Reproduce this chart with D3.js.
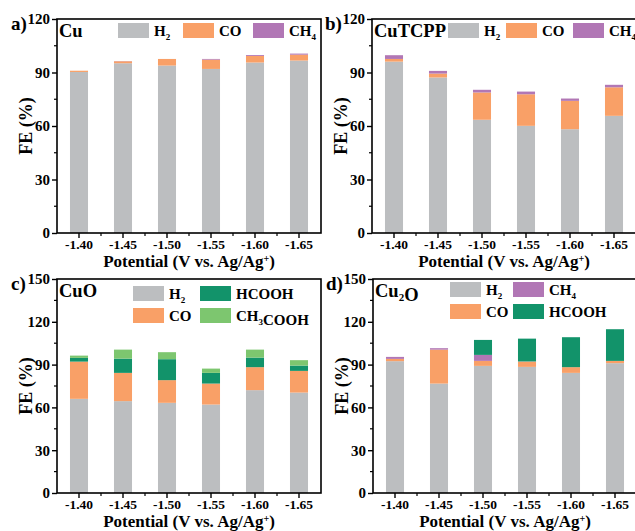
<!DOCTYPE html>
<html><head><meta charset="utf-8">
<script src="https://cdn.jsdelivr.net/npm/d3@7"></script>
<style>body{margin:0;background:#fff}svg{display:block}text{font-family:"Liberation Serif","Times New Roman",serif;font-weight:bold;fill:#000}</style>
</head><body><svg id="c" width="635" height="531"></svg>
<script>
const potentials = ["-1.40","-1.45","-1.50","-1.55","-1.60","-1.65"];
// Panel a: Cu
const cuH2  = [90.3, 95.2, 93.9, 92.0, 95.6, 96.7];
const cuCO  = [0.7, 1.1, 3.7, 5.2, 3.7, 3.3];
const cuCH4 = [0.0, 0.1, 0.0, 0.4, 0.5, 0.6];
// Panel b: CuTCPP
const tcH2  = [96.1, 87.2, 63.5, 60.1, 58.2, 65.7];
const tcCO  = [1.5, 2.2, 15.3, 17.7, 15.9, 16.0];
const tcCH4 = [2.1, 1.5, 1.5, 1.5, 1.3, 1.4];
// Panel c: CuO
const oH2     = [66.0, 64.4, 63.2, 62.0, 72.1, 70.4];
const oCO     = [26.1, 19.8, 15.9, 14.7, 16.1, 15.2];
const oHCOOH  = [2.6, 10.0, 14.7, 7.5, 6.7, 3.7];
const oCH3COOH= [1.6, 6.3, 4.9, 3.0, 5.6, 3.8];
// Panel d: Cu2O
const dH2    = [92.4, 76.7, 89.1, 88.4, 84.2, 91.0];
const dCO    = [1.6, 23.8, 3.5, 3.7, 4.0, 1.6];
const dCH4   = [1.4, 1.0, 4.2, 0.1, 0.0, 0.0];
const dHCOOH = [0.0, 0.0, 10.5, 16.0, 21.0, 22.2];

const yTicksAB = [0, 30, 60, 90, 120];
const yTicksCD = [0, 30, 60, 90, 120, 150];

const C = {H2:"#bcbec0", CO:"#f9a067", CH4:"#b177b5", HCOOH:"#12936a", CH3COOH:"#7dc66f"};

const svg = d3.select("#c");

function panel(o){
  const g = svg.append("g").attr("transform",`translate(${o.x},${o.y})`);
  const W = 264, H = 214;
  const x = d3.scaleBand().domain(potentials).range([0,W]).paddingInner(0.59).paddingOuter(0.295);
  const y = d3.scaleLinear().domain([0,o.ymax]).range([H,0]);
  const keys = o.series.map(s=>s.key);
  const rows = potentials.map((p,i)=>{const r={p}; o.series.forEach(s=>r[s.key]=s.vals[i]); return r;});
  const stack = d3.stack().keys(keys)(rows);
  g.selectAll("g.s").data(stack).join("g").attr("fill",d=>C[d.key])
    .selectAll("rect").data(d=>d).join("rect")
    .attr("x",d=>x(d.data.p)).attr("width",x.bandwidth())
    .attr("y",d=>y(d[1])).attr("height",d=>Math.max(0,y(d[0])-y(d[1])));
  // frame
  g.append("rect").attr("width",W).attr("height",H).attr("fill","none").attr("stroke","#000").attr("stroke-width",1.6);
  // y axis
  const ya = g.append("g").call(d3.axisLeft(y).tickValues(o.yticks).tickSize(5).tickPadding(2));
  ya.select(".domain").remove();
  ya.selectAll("line").attr("stroke-width",1.4);
  ya.selectAll("text").style("font-size","15px").style("font-family","Liberation Serif").style("font-weight","bold");
  const minor = d3.range(15,o.ymax,30);
  g.selectAll("line.ym").data(minor).join("line").attr("x1",-3).attr("x2",0).attr("y1",d=>y(d)).attr("y2",d=>y(d)).attr("stroke","#000").attr("stroke-width",1.2);
  // x axis
  const xa = g.append("g").attr("transform",`translate(0,${H})`).call(d3.axisBottom(x).tickSize(5).tickPadding(1.5));
  xa.select(".domain").remove();
  xa.selectAll("line").attr("stroke-width",1.4);
  xa.selectAll("text").style("font-size","13.5px").style("font-family","Liberation Serif").style("font-weight","bold");
  const bounds = potentials.slice(1).map(p=>x(p)-x.step()*x.paddingInner()/2);
  g.selectAll("line.xm").data(bounds).join("line").attr("x1",d=>d).attr("x2",d=>d).attr("y1",H).attr("y2",H+3).attr("stroke","#000").attr("stroke-width",1.2);
  // titles
  g.append("text").attr("x",W/2).attr("y",H+34.3).attr("text-anchor","middle").style("font-size","17px")
    .html('Potential (V vs. Ag/Ag<tspan dy="-5" style="font-size:10px">+</tspan><tspan dy="5">)</tspan>');
  g.append("text").attr("transform",`translate(-25,${H/2}) rotate(-90)`).attr("text-anchor","middle").style("font-size","18px").text("FE (%)");
  // panel letter
  g.append("text").attr("x",o.lx).attr("y",11).style("font-size","19px").text(o.letter);
  // material name
  g.append("text").attr("x",2).attr("y",o.ty).style("font-size","18.5px").html(o.name);
  // legend
  o.legend.forEach(l=>{
    g.append("rect").attr("x",l.x).attr("y",l.y).attr("width",31).attr("height",15).attr("fill",C[l.key]);
    g.append("text").attr("x",l.x+36).attr("y",l.y+13).style("font-size","15px").html(l.label);
  });
}
const sub = (s,fs)=>`<tspan dy="4" style="font-size:${fs||9}px">${s}</tspan><tspan dy="-4"></tspan>`;
const LH2 = "H"+sub("2"), LCH4 = "CH"+sub("4"), LCH3 = "CH"+sub("3")+"COOH";

panel({x:57,y:19,ymax:120,yticks:yTicksAB,letter:"a)",lx:-46,name:"Cu",ty:18,
  series:[{key:"H2",vals:cuH2},{key:"CO",vals:cuCO},{key:"CH4",vals:cuCH4}],
  legend:[{key:"H2",x:61,y:4,label:LH2},{key:"CO",x:126,y:4,label:"CO"},{key:"CH4",x:196,y:4,label:LCH4}]});
panel({x:372,y:19,ymax:120,yticks:yTicksAB,letter:"b)",lx:-47,name:"CuTCPP",ty:18,
  series:[{key:"H2",vals:tcH2},{key:"CO",vals:tcCO},{key:"CH4",vals:tcCH4}],
  legend:[{key:"H2",x:76,y:4,label:LH2},{key:"CO",x:134,y:4,label:"CO"},{key:"CH4",x:201,y:4,label:LCH4}]});
panel({x:57,y:279,ymax:150,yticks:yTicksCD,letter:"c)",lx:-46,name:"CuO",ty:18,
  series:[{key:"H2",vals:oH2},{key:"CO",vals:oCO},{key:"HCOOH",vals:oHCOOH},{key:"CH3COOH",vals:oCH3COOH}],
  legend:[{key:"H2",x:76,y:7,label:LH2},{key:"HCOOH",x:143,y:7,label:"HCOOH"},{key:"CO",x:76,y:29,label:"CO"},{key:"CH3COOH",x:143,y:29,label:LCH3}]});
panel({x:373,y:279,ymax:150,yticks:yTicksCD,letter:"d)",lx:-47,name:"Cu"+sub("2",11)+"O",ty:18,
  series:[{key:"H2",vals:dH2},{key:"CO",vals:dCO},{key:"CH4",vals:dCH4},{key:"HCOOH",vals:dHCOOH}],
  legend:[{key:"H2",x:77,y:3,label:LH2},{key:"CH4",x:140,y:3,label:LCH4},{key:"CO",x:77,y:25,label:"CO"},{key:"HCOOH",x:140,y:25,label:"HCOOH"}]});
</script></body></html>
